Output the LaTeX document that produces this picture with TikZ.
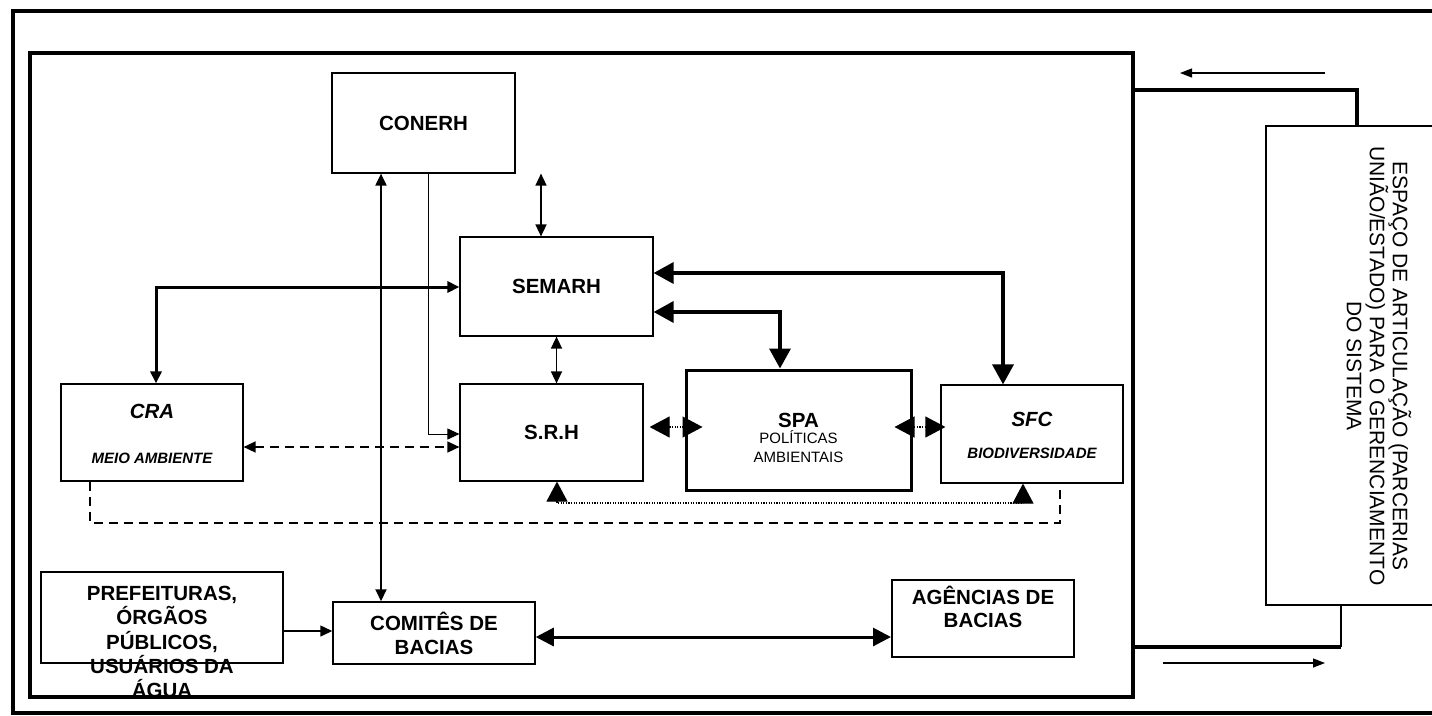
\documentclass[tikz,border=0pt]{standalone}
\usepackage{fontspec}
\setmainfont{Liberation Sans}
\usetikzlibrary{arrows.meta,calc}
\begin{document}
\begin{tikzpicture}[x=1pt,y=-1pt,
  stip/.tip={Triangle[length=12pt,width=11pt]},
  btip/.tip={Triangle[length=20pt,width=21pt]},
  mtip/.tip={Triangle[length=18pt,width=18pt]},
  ftip/.tip={Triangle[length=12pt,width=9pt]},
  box/.style={draw,line width=1.2pt,inner sep=0pt,align=center,font=\bfseries\fontsize{20.5}{24}\selectfont},
  titleb/.style={inner sep=0pt,anchor=base,font=\bfseries\fontsize{20.5}{24}\selectfont},
  titlebi/.style={inner sep=0pt,anchor=base,font=\bfseries\itshape\fontsize{20.5}{24}\selectfont},
  subbi/.style={inner sep=0pt,anchor=base,font=\bfseries\itshape\fontsize{15}{18}\selectfont},
  subr/.style={inner sep=0pt,anchor=base,font=\fontsize{15}{18}\selectfont},
  dotline/.style={line width=1.2pt,dash pattern=on 1.2pt off 1.4pt},
  dashline/.style={line width=1.5pt,dash pattern=on 9pt off 6pt},
  thickline/.style={line width=3.5pt}
]
\useasboundingbox (0,0) rectangle (1432,715);

% text that overflows its box (drawn first)
\node[inner sep=0pt,anchor=north,align=center,font=\bfseries\fontsize{20.5}{24.3}\selectfont] (preftext) at (162,586) {PREFEITURAS,\\ÓRGÃOS\\PÚBLICOS,\\USUÁRIOS DA\\ÁGUA};

% frames
\draw[line width=4pt] (12.5,11) rectangle (1480,713);
\node[draw,line width=4pt,inner sep=0pt,minimum width=1103.5pt,minimum height=644.5pt] (inner) at (581.25,374.75) {};

% boxes
\node[box,minimum width=183pt,minimum height=100pt] (conerh) at (423.5,123) {CONERH};
\node[box,minimum width=193pt,minimum height=99pt] (semarh) at (556.5,286.5) {SEMARH};
\node[box,minimum width=183pt,minimum height=97pt] (srh) at (551.5,432.5) {S.R.H};
\node[box,line width=3pt,minimum width=225pt,minimum height=120pt] (spa) at (798.5,430) {};
\node[box,minimum width=182pt,minimum height=98pt] (sfc) at (1032,434) {};
\node[box,minimum width=182pt,minimum height=97pt] (cra) at (152,432.5) {};
\node[box,minimum width=242pt,minimum height=91pt] (pref) at (162,617.5) {};
\node[box,line width=1.5pt,minimum width=202pt,minimum height=62pt] (comites) at (434,633) {COMITÊS DE\\BACIAS};
\node[box,line width=2pt,minimum width=182pt,minimum height=77pt] (agencias) at (983,618.5) {};
\node[draw,line width=1.5pt,inner sep=0pt,minimum width=200pt,minimum height=479pt] (esp) at (1366,365.5) {};

% labels
\node[titlebi] (cral1) at (152,418) {CRA};
\node[subbi] (cral2) at (152,463) {MEIO AMBIENTE};
\node[titleb] (spal1) at (798.5,427) {SPA};
\node[subr] (spal2) at (798.5,443) {POLÍTICAS};
\node[subr] (spal3) at (798.5,462) {AMBIENTAIS};
\node[titlebi] (sfcl1) at (1032,426) {SFC};
\node[subbi] (sfcl2) at (1032,458) {BIODIVERSIDADE};
\node[inner sep=0pt,anchor=north,align=center,font=\bfseries\fontsize{20.5}{23}\selectfont] (agtext) at (983,586) {AGÊNCIAS DE\\BACIAS};
\node[inner sep=0pt,rotate=-90,align=center,font=\fontsize{21}{23}\selectfont] (esptext) at (1379,366) {ESPAÇO DE ARTICULAÇÃO (PARCERIAS\\UNIÃO/ESTADO) PARA O GERENCIAMENTO\\DO SISTEMA};

% helper coordinates
\coordinate (vx1) at (381,0);
\coordinate (vx2) at (428,434);
\coordinate (vx3) at (541,0);
\coordinate (h5) at (156,287);
\coordinate (h6) at (1003,273);
\coordinate (h7) at (780,312);
\coordinate (dy) at (0,427);
\coordinate (dy2) at (0,447);
\coordinate (b1) at (557,503);
\coordinate (b2) at (1023,503);
\coordinate (e1) at (90,523);
\coordinate (e2) at (1060,523);
\coordinate (p13) at (0,631);
\coordinate (p14) at (0,637);
\coordinate (r1) at (1357,90);
\coordinate (r2) at (1341,647);
\coordinate (fa1) at (1325,73);
\coordinate (fa2) at (1180,73);
\coordinate (fb1) at (1163,663);
\coordinate (fb2) at (1325,663);

% connectors
\draw[line width=2pt,arrows={stip-stip}] (conerh.south -| vx1) -- (comites.north -| vx1);
\draw[line width=1pt,arrows={-stip}] (conerh.south -| vx2) -- (vx2) -- (srh.west |- vx2);
\draw[line width=1.5pt,arrows={stip-stip}] (conerh.south -| vx3) -- (semarh.north -| vx3);
\draw[line width=1.5pt,arrows={stip-stip}] (semarh.south) -- (srh.north -| semarh.south);
\draw[line width=3pt,arrows={stip-stip}] (semarh.west |- h5) -- (h5) -- (cra.north -| h5);
\draw[thickline,arrows={btip-btip}] (semarh.east |- h6) -- (h6) -- (sfc.north -| h6);
\draw[thickline,arrows={btip-btip}] (semarh.east |- h7) -- (h7) -- (spa.north -| h7);
\draw[dotline,arrows={btip-btip}] ($(srh.east |- dy)+(6,0)$) -- ($(spa.west |- dy)+(18,0)$);
\draw[dotline,arrows={btip-btip}] ($(spa.east |- dy)+(-18,0)$) -- ($(sfc.west |- dy)+(5,0)$);
\draw[dashline,arrows={stip-stip}] (cra.east |- dy2) -- (srh.west |- dy2);
\draw[dotline,arrows={btip-btip}] (srh.south -| b1) -- (b1) -- (b2) -- (sfc.south -| b2);
\draw[dashline] (cra.south -| e1) -- (e1) -- (e2) -- ($(sfc.south -| e2)+(0,5)$);
\draw[line width=1.5pt,arrows={-stip}] (pref.east |- p13) -- (comites.west |- p13);
\draw[line width=3pt,arrows={mtip-mtip}] (comites.east |- p14) -- (agencias.west |- p14);
\draw[thickline] (inner.east |- r1) -- (r1) -- (esp.north -| r1);
\draw[thickline] (inner.east |- r2) -- (r2);
\draw[line width=2pt] (r2) -- (esp.south -| r2);
\draw[line width=1.3pt,arrows={-ftip}] (fa1) -- (fa2);
\draw[line width=1.3pt,arrows={-ftip}] (fb1) -- (fb2);
\end{tikzpicture}
\end{document}
